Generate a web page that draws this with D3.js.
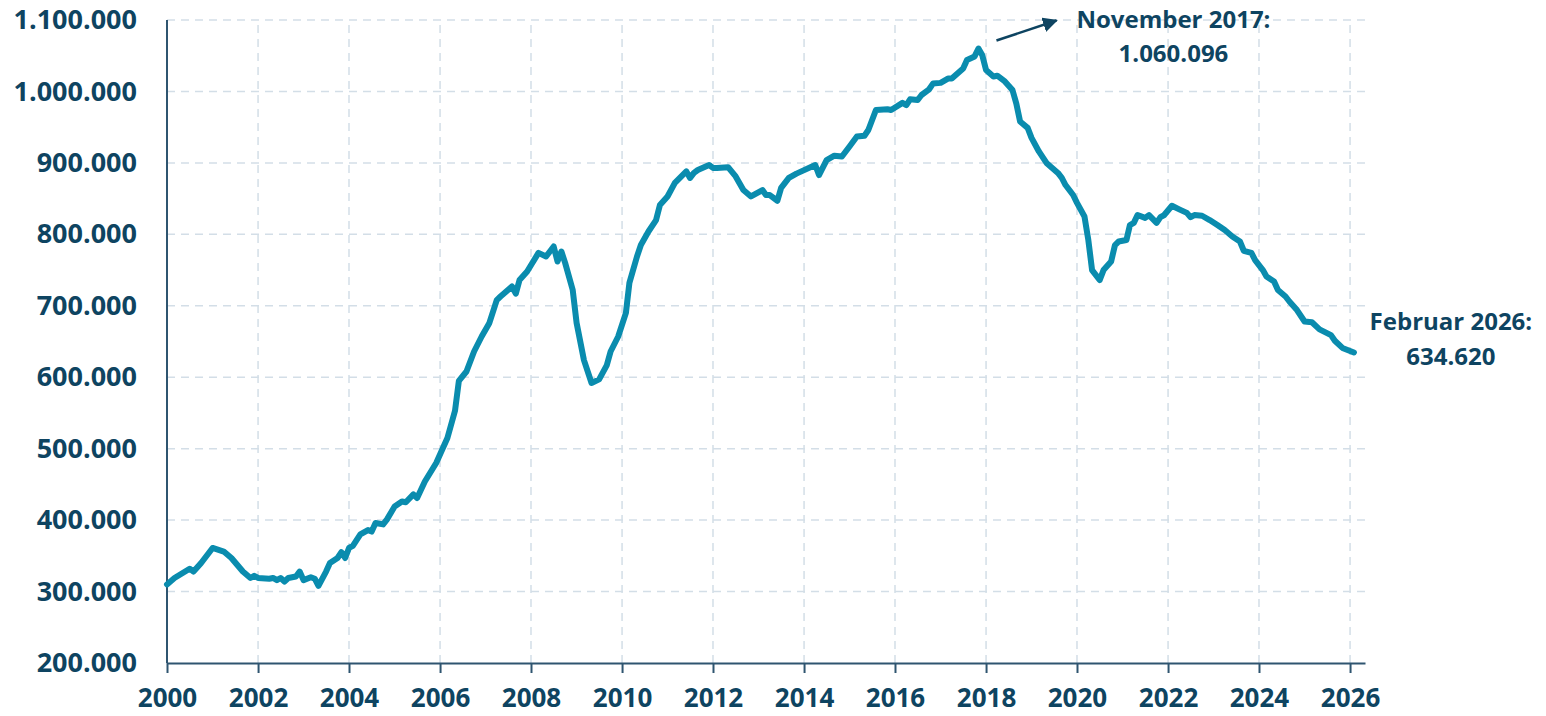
<!DOCTYPE html>
<html>
<head>
<meta charset="utf-8">
<script src="https://cdn.jsdelivr.net/npm/d3@7"></script>
<style>
  body { margin: 0; background: #fff; }
  svg text { font-family: "Open Sans", sans-serif; font-weight: 700; fill: #0e4461; }
</style>
</head>
<body>
<div id="chart"></div>
<script>
// monthly values (Jahr-Monat, Wert)
var dates = [
  "2000-01","2000-03","2000-07","2000-08","2000-10","2001-01","2001-04","2001-06","2001-09","2001-11","2001-12",
  "2002-01","2002-04","2002-05","2002-06","2002-07","2002-08","2002-09","2002-11","2002-12",
  "2003-01","2003-03","2003-04","2003-05","2003-07","2003-08","2003-10","2003-11","2003-12",
  "2004-01","2004-02","2004-04","2004-06","2004-07","2004-08","2004-10","2004-11",
  "2005-01","2005-03","2005-04","2005-06","2005-07","2005-09","2005-12",
  "2006-03","2006-05","2006-06","2006-08","2006-10","2006-12",
  "2007-02","2007-04","2007-05","2007-08","2007-09","2007-10","2007-12",
  "2008-03","2008-05","2008-07","2008-08","2008-09","2008-10","2008-12",
  "2009-01","2009-03","2009-05","2009-07","2009-09","2009-10","2009-12",
  "2010-02","2010-03","2010-05","2010-06","2010-08","2010-10","2010-11",
  "2011-01","2011-03","2011-06","2011-07","2011-08","2011-09","2011-12",
  "2012-01","2012-02","2012-05","2012-07","2012-09","2012-11",
  "2013-02","2013-03","2013-04","2013-06","2013-07","2013-09","2013-11",
  "2014-04","2014-05","2014-07","2014-09","2014-11",
  "2015-01","2015-03","2015-05","2015-06","2015-08","2015-11","2015-12",
  "2016-03","2016-04","2016-05","2016-07","2016-08","2016-10","2016-11",
  "2017-01","2017-03","2017-04","2017-07","2017-08","2017-10","2017-11","2017-12",
  "2018-01","2018-03","2018-04","2018-06","2018-08","2018-09","2018-10","2018-12",
  "2019-01","2019-03","2019-05","2019-08","2019-09","2019-10","2019-12",
  "2020-01","2020-03","2020-04","2020-05","2020-06","2020-07","2020-08","2020-10","2020-11","2020-12",
  "2021-02","2021-03","2021-04","2021-05","2021-07","2021-08","2021-10","2021-11","2021-12",
  "2022-02","2022-04","2022-06","2022-07","2022-08","2022-10","2022-12",
  "2023-02","2023-04","2023-06","2023-08","2023-09","2023-11","2023-12",
  "2024-02","2024-03","2024-05","2024-06","2024-08","2024-09","2024-11",
  "2025-01","2025-03","2025-05","2025-08","2025-09","2025-11",
  "2026-02"
];
var values = [
  310000,319000,332000,328000,340000,361000,356000,347000,328000,319000,322000,
  319000,318000,319000,316000,319000,314000,319000,321000,328000,
  316000,320000,318000,308000,328000,340000,347000,355000,347000,
  361000,364000,380000,386000,384000,396000,394000,401000,
  419000,426000,425000,436000,431000,454000,480000,
  515000,553000,595000,608000,636000,657000,
  676000,708000,713000,727000,717000,736000,748000,
  774000,769000,783000,762000,776000,760000,722000,
  676000,624000,592000,597000,617000,636000,657000,
  690000,732000,769000,785000,804000,820000,841000,
  853000,872000,888000,879000,886000,890000,897000,
  893000,893000,894000,881000,862000,853000,
  862000,855000,855000,847000,865000,879000,885000,
  897000,883000,904000,910000,909000,
  923000,937000,938000,946000,974000,975000,974000,
  984000,981000,989000,988000,995000,1003000,1011000,
  1012000,1018000,1018000,1032000,1044000,1049000,1060096,1051000,
  1030000,1021000,1022000,1014000,1002000,983000,958000,949000,
  935000,916000,900000,886000,879000,869000,855000,
  844000,825000,792000,750000,743000,736000,750000,762000,785000,790000,
  792000,813000,816000,827000,823000,827000,816000,824000,827000,
  840000,835000,830000,824000,827000,826000,820000,
  813000,806000,797000,790000,777000,774000,764000,
  750000,741000,734000,722000,713000,706000,694000,
  678000,677000,667000,659000,651000,641000,
  634620
];
var yTicks = [200000,300000,400000,500000,600000,700000,800000,900000,1000000,1100000];
var xTickYears = [2000,2002,2004,2006,2008,2010,2012,2014,2016,2018,2020,2022,2024,2026];
var peakLabel = ["November 2017:", "1.060.096"];
var lastLabel = ["Februar 2026:", "634.620"];

var W = 1546, H = 716;
var margin = {top: 20, right: 181, bottom: 53, left: 167};

var parseMonth = d3.timeParse("%Y-%m");
var data = dates.map(function(d, i){ return {date: parseMonth(d), value: values[i]}; });

var svg = d3.select("#chart").append("svg")
  .attr("width", W)
  .attr("height", H);

var x = d3.scaleTime()
  .domain([new Date(2000, 0, 1), new Date(2026, 4, 1)])
  .range([margin.left, W - margin.right]);
var y = d3.scaleLinear()
  .domain([200000, 1100000])
  .range([H - margin.bottom, margin.top]);

var fmt = function(v){ return d3.format(",")(v).replace(/,/g, "."); };

// grid
var grid = svg.append("g").attr("stroke", "#d3dee7").attr("stroke-width", 1.5).attr("stroke-dasharray", "8,6");
grid.selectAll("line.h")
  .data(yTicks.slice(1))
  .enter().append("line")
  .attr("x1", x.range()[0]).attr("x2", x.range()[1])
  .attr("y1", function(d){ return y(d); }).attr("y2", function(d){ return y(d); });
grid.selectAll("line.v")
  .data(xTickYears.slice(1))
  .enter().append("line")
  .attr("x1", function(d){ return x(new Date(d, 0, 1)); })
  .attr("x2", function(d){ return x(new Date(d, 0, 1)); })
  .attr("y1", y.range()[0]).attr("y2", y.range()[1]);

// axes
var yAxis = d3.axisLeft(y).tickValues(yTicks).tickSize(10).tickPadding(20).tickFormat(fmt);
var gy = svg.append("g").attr("transform", "translate(" + margin.left + ",0)").call(yAxis);
var xAxis = d3.axisBottom(x)
  .tickValues(xTickYears.map(function(d){ return new Date(d, 0, 1); }))
  .tickSize(10).tickSizeOuter(0).tickPadding(16)
  .tickFormat(d3.timeFormat("%Y"));
var gx = svg.append("g").attr("transform", "translate(0," + y.range()[0] + ")").call(xAxis);

[gy, gx].forEach(function(g){
  g.selectAll("path, line").attr("stroke", "#2f5570").attr("stroke-width", 2);
  g.selectAll("text").attr("font-size", 27).attr("font-family", "Open Sans").attr("font-weight", 700).attr("fill", "#0e4461");
});
gy.select(".domain").attr("d", "M0," + y.range()[0] + "V" + y.range()[1]);
gy.selectAll(".tick line").attr("x1", -10);
gx.selectAll("text").attr("font-size", 26);

// line
var line = d3.line()
  .x(function(d){ return x(d.date); })
  .y(function(d){ return y(d.value); });

svg.append("path")
  .datum(data)
  .attr("fill", "none")
  .attr("stroke", "#0a8cae")
  .attr("stroke-width", 6)
  .attr("stroke-linejoin", "round")
  .attr("stroke-linecap", "round")
  .attr("d", line);

// annotations
svg.append("defs").append("marker")
  .attr("id", "arrow")
  .attr("viewBox", "0 0 10 10")
  .attr("refX", 9).attr("refY", 5)
  .attr("markerWidth", 6).attr("markerHeight", 6)
  .attr("orient", "auto")
  .append("path").attr("d", "M0,0L10,5L0,10Z").attr("fill", "#0e4461");

var peak = data.reduce(function(a, b){ return b.value > a.value ? b : a; });
var px = x(peak.date), py = y(peak.value);
svg.append("line")
  .attr("x1", px + 18).attr("y1", py - 8)
  .attr("x2", px + 78).attr("y2", py - 28)
  .attr("stroke", "#0e4461").attr("stroke-width", 2.5)
  .attr("marker-end", "url(#arrow)");

svg.selectAll("text.peak")
  .data(peakLabel)
  .enter().append("text")
  .attr("class", "peak")
  .attr("x", px + 195)
  .attr("y", function(d, i){ return 28 + i * 34; })
  .attr("text-anchor", "middle")
  .attr("font-size", 24)
  .text(function(d){ return d; });

var last = data[data.length - 1];
var lx = x(last.date), ly = y(last.value);
svg.selectAll("text.last")
  .data(lastLabel)
  .enter().append("text")
  .attr("class", "last")
  .attr("x", lx + 97)
  .attr("y", function(d, i){ return ly - 22 + i * 35; })
  .attr("text-anchor", "middle")
  .attr("font-size", 24)
  .text(function(d){ return d; });
</script>
</body>
</html>
